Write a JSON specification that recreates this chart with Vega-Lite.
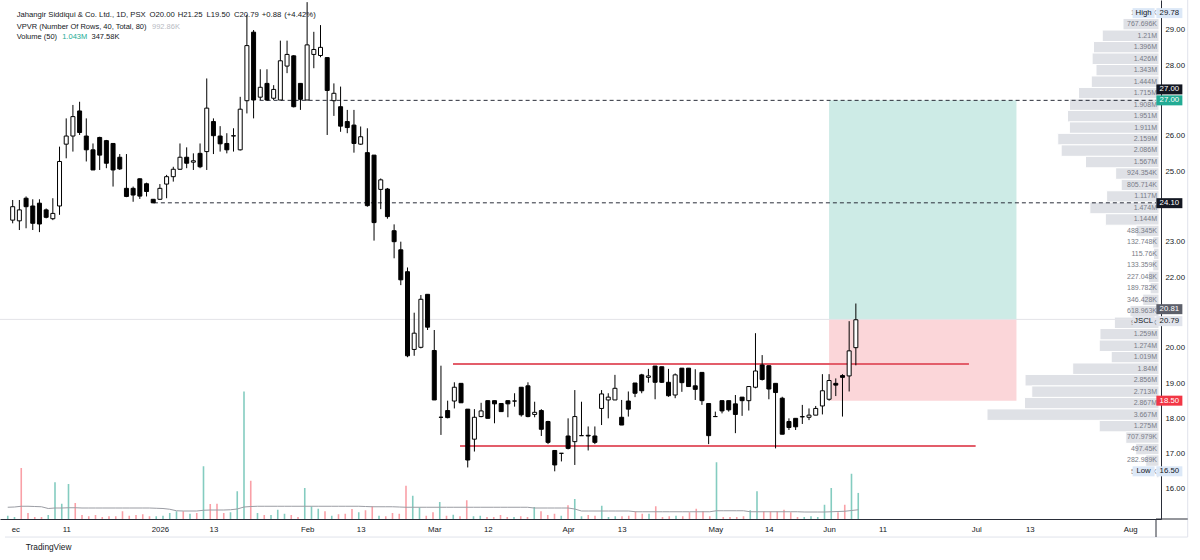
{
"$schema": "https://vega.github.io/schema/vega-lite/v6.json",
"width": 1161, "height": 519,
"autosize": {"type": "none"},
"padding": {"left": 0, "top": 0, "right": 39, "bottom": 41},
"background": "#ffffff",
"config": {"view": {"stroke": null}, "font": "Liberation Sans"},
"datasets": {
"bars": [
{"i":-63,"o":23.61,"h":24.18,"l":23.52,"c":23.99,"v":0.13,"m":0.47},
{"i":-62,"o":23.59,"h":24.18,"l":23.33,"c":23.90,"v":0.08,"m":0.48},
{"i":-61,"o":24.23,"h":24.28,"l":23.38,"c":23.99,"v":2.04,"m":0.51},
{"i":-60,"o":24.01,"h":24.20,"l":23.33,"c":23.52,"v":0.24,"m":0.51},
{"i":-59,"o":24.09,"h":24.20,"l":23.27,"c":23.50,"v":0.08,"m":0.50},
{"i":-58,"o":23.90,"h":23.94,"l":23.66,"c":23.69,"v":0.08,"m":0.49},
{"i":-57,"o":23.65,"h":24.23,"l":23.61,"c":23.80,"v":0.16,"m":0.42},
{"i":-56,"o":24.01,"h":25.69,"l":23.76,"c":25.27,"v":1.47,"m":0.44},
{"i":-55,"o":25.76,"h":26.49,"l":25.36,"c":25.99,"v":0.61,"m":0.44},
{"i":-54,"o":25.99,"h":26.87,"l":25.55,"c":26.54,"v":1.40,"m":0.45},
{"i":-53,"o":26.70,"h":26.96,"l":26.02,"c":26.09,"v":0.64,"m":0.45},
{"i":-52,"o":25.99,"h":26.49,"l":25.27,"c":25.60,"v":0.16,"m":0.44},
{"i":-51,"o":25.60,"h":25.78,"l":25.03,"c":25.03,"v":0.11,"m":0.44},
{"i":-50,"o":25.95,"h":25.97,"l":25.03,"c":25.45,"v":0.16,"m":0.44},
{"i":-49,"o":25.86,"h":25.88,"l":25.08,"c":25.22,"v":0.08,"m":0.44},
{"i":-48,"o":25.78,"h":25.78,"l":24.56,"c":25.03,"v":0.11,"m":0.44},
{"i":-47,"o":25.39,"h":25.48,"l":25.03,"c":25.06,"v":0.11,"m":0.44},
{"i":-46,"o":24.51,"h":25.48,"l":24.26,"c":24.28,"v":0.31,"m":0.44},
{"i":-45,"o":24.51,"h":24.56,"l":24.13,"c":24.32,"v":0.13,"m":0.44},
{"i":-44,"o":24.78,"h":24.79,"l":24.21,"c":24.29,"v":0.16,"m":0.44},
{"i":-43,"o":24.64,"h":24.67,"l":24.28,"c":24.42,"v":0.19,"m":0.44},
{"i":-42,"o":24.20,"h":24.20,"l":24.09,"c":24.10,"v":0.11,"m":0.44},
{"i":-41,"o":24.20,"h":24.63,"l":24.18,"c":24.51,"v":0.11,"m":0.43},
{"i":-40,"o":24.63,"h":24.89,"l":24.23,"c":24.84,"v":0.13,"m":0.42},
{"i":-39,"o":24.84,"h":25.12,"l":24.70,"c":25.05,"v":0.24,"m":0.39},
{"i":-38,"o":25.05,"h":25.78,"l":25.03,"c":25.39,"v":0.31,"m":0.33},
{"i":-37,"o":25.39,"h":25.67,"l":25.08,"c":25.22,"v":0.31,"m":0.32},
{"i":-36,"o":25.25,"h":25.50,"l":25.03,"c":25.29,"v":0.21,"m":0.32},
{"i":-35,"o":25.50,"h":25.78,"l":25.08,"c":25.12,"v":0.24,"m":0.32},
{"i":-34,"o":25.55,"h":27.62,"l":25.03,"c":26.78,"v":2.11,"m":0.35},
{"i":-33,"o":26.40,"h":26.49,"l":25.48,"c":26.00,"v":0.60,"m":0.36},
{"i":-32,"o":25.99,"h":26.27,"l":25.55,"c":25.77,"v":0.61,"m":0.36},
{"i":-31,"o":25.78,"h":26.07,"l":25.50,"c":25.60,"v":0.24,"m":0.36},
{"i":-30,"o":25.99,"h":26.21,"l":25.55,"c":26.00,"v":0.27,"m":0.37},
{"i":-29,"o":25.60,"h":27.10,"l":25.58,"c":26.75,"v":1.11,"m":0.40},
{"i":-28,"o":26.99,"h":29.42,"l":26.63,"c":28.55,"v":5.10,"m":0.48},
{"i":-27,"o":28.93,"h":28.99,"l":26.49,"c":27.01,"v":1.53,"m":0.50},
{"i":-26,"o":27.09,"h":27.88,"l":27.01,"c":27.37,"v":0.24,"m":0.51},
{"i":-25,"o":27.48,"h":27.88,"l":26.99,"c":27.01,"v":0.16,"m":0.51},
{"i":-24,"o":27.06,"h":27.43,"l":27.01,"c":27.31,"v":0.16,"m":0.51},
{"i":-23,"o":27.01,"h":28.69,"l":27.01,"c":28.12,"v":0.37,"m":0.51},
{"i":-22,"o":27.97,"h":28.69,"l":27.77,"c":28.30,"v":0.21,"m":0.51},
{"i":-21,"o":28.26,"h":28.28,"l":26.80,"c":26.82,"v":0.16,"m":0.51},
{"i":-20,"o":27.48,"h":27.48,"l":26.73,"c":27.03,"v":0.08,"m":0.51},
{"i":-19,"o":27.01,"h":29.78,"l":27.01,"c":28.57,"v":1.24,"m":0.51},
{"i":-18,"o":28.30,"h":28.94,"l":27.91,"c":28.44,"v":0.51,"m":0.51},
{"i":-17,"o":28.27,"h":29.13,"l":28.22,"c":28.50,"v":0.41,"m":0.51},
{"i":-16,"o":28.21,"h":28.21,"l":26.02,"c":27.28,"v":0.31,"m":0.51},
{"i":-15,"o":26.99,"h":27.48,"l":26.56,"c":27.20,"v":0.13,"m":0.51},
{"i":-14,"o":26.82,"h":27.39,"l":26.11,"c":26.27,"v":0.19,"m":0.51},
{"i":-13,"o":26.40,"h":26.73,"l":26.07,"c":26.23,"v":0.21,"m":0.51},
{"i":-12,"o":26.30,"h":26.73,"l":25.52,"c":25.78,"v":0.40,"m":0.51},
{"i":-11,"o":25.76,"h":26.26,"l":25.74,"c":25.97,"v":0.27,"m":0.51},
{"i":-10,"o":25.52,"h":26.21,"l":23.99,"c":24.02,"v":0.35,"m":0.50},
{"i":-9,"o":25.45,"h":25.45,"l":23.03,"c":23.54,"v":0.51,"m":0.49},
{"i":-8,"o":24.48,"h":24.79,"l":23.92,"c":24.75,"v":0.13,"m":0.49},
{"i":-7,"o":24.49,"h":24.52,"l":23.65,"c":23.71,"v":0.11,"m":0.49},
{"i":-6,"o":23.31,"h":23.49,"l":22.53,"c":23.00,"v":0.24,"m":0.49},
{"i":-5,"o":22.77,"h":23.00,"l":21.77,"c":21.92,"v":0.21,"m":0.48},
{"i":-4,"o":22.15,"h":22.27,"l":19.73,"c":19.77,"v":1.33,"m":0.47},
{"i":-3,"o":19.95,"h":20.99,"l":19.77,"c":20.41,"v":0.93,"m":0.47},
{"i":-2,"o":20.01,"h":21.49,"l":19.98,"c":21.37,"v":0.47,"m":0.47},
{"i":-1,"o":21.51,"h":21.51,"l":20.50,"c":20.58,"v":0.13,"m":0.47},
{"i":0,"o":19.92,"h":20.50,"l":18.52,"c":18.52,"v":0.27,"m":0.47},
{"i":1,"o":18.03,"h":19.49,"l":17.53,"c":18.03,"v":0.68,"m":0.47},
{"i":2,"o":18.22,"h":18.50,"l":18.00,"c":18.02,"v":0.13,"m":0.47},
{"i":3,"o":18.49,"h":19.02,"l":18.28,"c":18.88,"v":0.17,"m":0.47},
{"i":4,"o":18.99,"h":19.00,"l":18.44,"c":18.44,"v":0.11,"m":0.47},
{"i":5,"o":18.26,"h":18.26,"l":16.61,"c":16.82,"v":0.75,"m":0.47},
{"i":6,"o":17.41,"h":18.26,"l":17.06,"c":18.03,"v":0.11,"m":0.47},
{"i":7,"o":18.05,"h":18.44,"l":18.03,"c":18.21,"v":0.13,"m":0.47},
{"i":8,"o":18.50,"h":18.50,"l":18.00,"c":18.00,"v":0.08,"m":0.47},
{"i":9,"o":18.50,"h":18.50,"l":17.86,"c":18.41,"v":0.08,"m":0.47},
{"i":10,"o":18.42,"h":18.42,"l":18.19,"c":18.19,"v":0.16,"m":0.47},
{"i":11,"o":18.50,"h":18.50,"l":18.03,"c":18.41,"v":0.08,"m":0.47},
{"i":12,"o":18.49,"h":18.71,"l":18.33,"c":18.49,"v":0.08,"m":0.47},
{"i":13,"o":18.88,"h":18.88,"l":18.05,"c":18.10,"v":0.11,"m":0.47},
{"i":14,"o":18.92,"h":19.02,"l":18.03,"c":18.05,"v":0.08,"m":0.47},
{"i":15,"o":18.11,"h":18.47,"l":18.03,"c":18.17,"v":0.48,"m":0.44},
{"i":16,"o":18.22,"h":18.26,"l":17.50,"c":17.69,"v":0.31,"m":0.44},
{"i":17,"o":17.91,"h":17.93,"l":17.27,"c":17.32,"v":0.16,"m":0.44},
{"i":18,"o":17.09,"h":17.09,"l":16.50,"c":16.68,"v":0.21,"m":0.44},
{"i":19,"o":17.01,"h":17.01,"l":16.78,"c":17.01,"v":0.13,"m":0.44},
{"i":20,"o":17.50,"h":18.00,"l":17.12,"c":17.15,"v":0.55,"m":0.44},
{"i":21,"o":17.34,"h":18.80,"l":16.68,"c":18.05,"v":0.80,"m":0.40},
{"i":22,"o":17.51,"h":18.47,"l":17.51,"c":17.51,"v":0.11,"m":0.32},
{"i":23,"o":17.52,"h":17.77,"l":17.09,"c":17.50,"v":0.16,"m":0.32},
{"i":24,"o":17.50,"h":17.77,"l":17.27,"c":17.32,"v":0.13,"m":0.32},
{"i":25,"o":18.28,"h":18.80,"l":17.81,"c":18.69,"v":0.53,"m":0.32},
{"i":26,"o":18.52,"h":18.71,"l":18.00,"c":18.60,"v":0.08,"m":0.32},
{"i":27,"o":18.52,"h":19.23,"l":18.52,"c":18.85,"v":0.11,"m":0.32},
{"i":28,"o":18.03,"h":18.52,"l":17.81,"c":17.81,"v":0.11,"m":0.32},
{"i":29,"o":18.49,"h":18.76,"l":18.05,"c":18.26,"v":0.13,"m":0.32},
{"i":30,"o":19.00,"h":19.00,"l":18.60,"c":18.71,"v":0.31,"m":0.29},
{"i":31,"o":19.23,"h":19.26,"l":18.71,"c":18.78,"v":0.21,"m":0.29},
{"i":32,"o":19.16,"h":19.40,"l":19.01,"c":19.20,"v":0.21,"m":0.29},
{"i":33,"o":19.48,"h":19.48,"l":18.54,"c":19.02,"v":0.51,"m":0.29},
{"i":34,"o":19.46,"h":19.46,"l":19.00,"c":19.02,"v":0.08,"m":0.29},
{"i":35,"o":19.02,"h":19.40,"l":18.61,"c":18.64,"v":0.11,"m":0.29},
{"i":36,"o":18.66,"h":19.27,"l":18.57,"c":19.23,"v":0.13,"m":0.29},
{"i":37,"o":19.42,"h":19.42,"l":18.75,"c":19.01,"v":0.11,"m":0.29},
{"i":38,"o":19.42,"h":19.42,"l":18.90,"c":18.90,"v":0.27,"m":0.29},
{"i":39,"o":18.92,"h":19.39,"l":18.52,"c":18.82,"v":0.41,"m":0.29},
{"i":40,"o":19.30,"h":19.30,"l":18.38,"c":18.50,"v":0.31,"m":0.29},
{"i":41,"o":18.42,"h":18.42,"l":17.27,"c":17.51,"v":0.11,"m":0.29},
{"i":42,"o":18.05,"h":18.19,"l":18.05,"c":18.05,"v":2.27,"m":0.33},
{"i":43,"o":18.50,"h":18.50,"l":18.14,"c":18.21,"v":0.08,"m":0.33},
{"i":44,"o":18.50,"h":18.50,"l":18.19,"c":18.24,"v":0.08,"m":0.33},
{"i":45,"o":18.41,"h":18.66,"l":17.58,"c":18.11,"v":0.08,"m":0.33},
{"i":46,"o":18.60,"h":18.60,"l":18.07,"c":18.50,"v":0.11,"m":0.33},
{"i":47,"o":18.50,"h":18.90,"l":18.22,"c":18.90,"v":0.35,"m":0.29},
{"i":48,"o":18.88,"h":20.41,"l":18.85,"c":19.34,"v":1.11,"m":0.29},
{"i":49,"o":19.51,"h":19.79,"l":19.07,"c":19.10,"v":0.31,"m":0.29},
{"i":50,"o":19.49,"h":19.49,"l":18.54,"c":18.83,"v":0.31,"m":0.29},
{"i":51,"o":18.99,"h":18.99,"l":17.15,"c":18.73,"v":0.31,"m":0.29},
{"i":52,"o":18.57,"h":18.61,"l":17.55,"c":17.55,"v":0.37,"m":0.29},
{"i":53,"o":17.91,"h":18.00,"l":17.67,"c":17.74,"v":0.27,"m":0.29},
{"i":54,"o":18.00,"h":18.00,"l":17.67,"c":17.76,"v":0.08,"m":0.29},
{"i":55,"o":18.04,"h":18.38,"l":17.84,"c":18.05,"v":0.08,"m":0.28},
{"i":56,"o":18.03,"h":18.28,"l":17.95,"c":18.09,"v":0.11,"m":0.28},
{"i":57,"o":18.09,"h":18.35,"l":18.09,"c":18.28,"v":0.08,"m":0.28},
{"i":58,"o":18.35,"h":19.25,"l":18.11,"c":18.78,"v":0.57,"m":0.28},
{"i":59,"o":18.54,"h":19.25,"l":18.50,"c":19.07,"v":1.24,"m":0.29},
{"i":60,"o":18.99,"h":19.13,"l":18.63,"c":18.94,"v":0.27,"m":0.30},
{"i":61,"o":19.21,"h":19.25,"l":18.05,"c":19.16,"v":0.57,"m":0.31},
{"i":62,"o":19.20,"h":20.75,"l":18.76,"c":19.91,"v":1.81,"m":0.34},
{"i":63,"o":20.00,"h":21.25,"l":19.50,"c":20.79,"v":1.043,"m":0.37}
],
"vp": [
{"lo":29.449,"hi":29.78,"v":0.01536,"t":"15.357K"},
{"lo":29.118,"hi":29.449,"v":0.7677,"t":"767.696K"},
{"lo":28.786,"hi":29.118,"v":1.21,"t":"1.21M"},
{"lo":28.455,"hi":28.786,"v":1.396,"t":"1.396M"},
{"lo":28.124,"hi":28.455,"v":1.426,"t":"1.426M"},
{"lo":27.792,"hi":28.124,"v":1.343,"t":"1.343M"},
{"lo":27.461,"hi":27.792,"v":1.444,"t":"1.444M"},
{"lo":27.13,"hi":27.461,"v":1.715,"t":"1.715M"},
{"lo":26.798,"hi":27.13,"v":1.908,"t":"1.908M"},
{"lo":26.467,"hi":26.798,"v":1.951,"t":"1.951M"},
{"lo":26.136,"hi":26.467,"v":1.911,"t":"1.911M"},
{"lo":25.804,"hi":26.136,"v":2.159,"t":"2.159M"},
{"lo":25.473,"hi":25.804,"v":2.086,"t":"2.086M"},
{"lo":25.142,"hi":25.473,"v":1.567,"t":"1.567M"},
{"lo":24.81,"hi":25.142,"v":0.9244,"t":"924.354K"},
{"lo":24.479,"hi":24.81,"v":0.8057,"t":"805.714K"},
{"lo":24.148,"hi":24.479,"v":1.117,"t":"1.117M"},
{"lo":23.816,"hi":24.148,"v":1.474,"t":"1.474M"},
{"lo":23.485,"hi":23.816,"v":1.144,"t":"1.144M"},
{"lo":23.154,"hi":23.485,"v":0.4883,"t":"488.345K"},
{"lo":22.822,"hi":23.154,"v":0.1327,"t":"132.748K"},
{"lo":22.491,"hi":22.822,"v":0.1158,"t":"115.76K"},
{"lo":22.16,"hi":22.491,"v":0.1334,"t":"133.359K"},
{"lo":21.828,"hi":22.16,"v":0.227,"t":"227.048K"},
{"lo":21.497,"hi":21.828,"v":0.1898,"t":"189.782K"},
{"lo":21.166,"hi":21.497,"v":0.3464,"t":"346.428K"},
{"lo":20.834,"hi":21.166,"v":0.619,"t":"618.963K"},
{"lo":20.503,"hi":20.834,"v":0.952,"t":"952.16K"},
{"lo":20.172,"hi":20.503,"v":1.259,"t":"1.259M"},
{"lo":19.84,"hi":20.172,"v":1.274,"t":"1.274M"},
{"lo":19.509,"hi":19.84,"v":1.019,"t":"1.019M"},
{"lo":19.178,"hi":19.509,"v":1.84,"t":"1.84M"},
{"lo":18.846,"hi":19.178,"v":2.856,"t":"2.856M"},
{"lo":18.515,"hi":18.846,"v":2.713,"t":"2.713M"},
{"lo":18.184,"hi":18.515,"v":2.867,"t":"2.867M"},
{"lo":17.852,"hi":18.184,"v":3.667,"t":"3.667M"},
{"lo":17.521,"hi":17.852,"v":1.275,"t":"1.275M"},
{"lo":17.19,"hi":17.521,"v":0.708,"t":"707.979K"},
{"lo":16.858,"hi":17.19,"v":0.4975,"t":"497.45K"},
{"lo":16.527,"hi":16.858,"v":0.283,"t":"282.989K"},
{"lo":16.196,"hi":16.527,"v":0.0506,"t":"50.603K"}
],
"zones": [{"k":"tp","x1":59,"x2":87,"y1":20.81,"y2":27.0},{"k":"sl","x1":59,"x2":87,"y1":18.5,"y2":20.81}],
"sr": [{"x1":2.8,"x2":79.9,"y":19.54},{"x1":3.85,"x2":80.9,"y":17.22}],
"lvl": [{"x1":-26.1,"y":27.0},{"x1":-41.9,"y":24.1}],
"tags": [
{"p":29.47,"t":"29.78","k":"hl"},
{"p":27.31,"t":"27.00","k":"black"},
{"p":27.0,"t":"27.00","k":"green"},
{"p":24.09,"t":"24.10","k":"black"},
{"p":21.09,"t":"20.81","k":"gray"},
{"p":20.75,"t":"20.79","k":"light"},
{"p":18.5,"t":"18.50","k":"red"},
{"p":16.5,"t":"16.50","k":"hl"}
],
"side": [{"p":29.47,"t":"High","k":"hl"},{"p":20.75,"t":"JSCL","k":"light"},{"p":16.5,"t":"Low","k":"hl"}]
},
"resolve": {"scale": {"x": "independent", "y": "independent"}},
"layer": [
{"data": {"name": "bars"},
 "layer": [
  {"mark": {"type": "rule", "strokeWidth": 1.6},
   "encoding": {
    "x": {"field": "i", "type": "quantitative", "scale": {"domain": [-64.148, 107.852], "nice": false, "zero": false}, "axis": null},
    "y": {"field": "v", "type": "quantitative", "scale": {"domain": [0, 20.76], "nice": false, "zero": false}, "axis": null},
    "y2": {"datum": 0},
    "color": {"condition": {"test": "datum.c >= datum.o", "value": "#84ccc0"}, "value": "#f9a0a7"}
   }},
  {"mark": {"type": "line", "color": "#9a9ca3", "strokeWidth": 1},
   "encoding": {
    "x": {"field": "i", "type": "quantitative", "scale": {"domain": [-64.148, 107.852], "nice": false, "zero": false}, "axis": null},
    "y": {"field": "m", "type": "quantitative", "scale": {"domain": [0, 20.76], "nice": false, "zero": false}, "axis": null}
   }}
 ]},
{"data": {"name": "vp"},
 "layer": [
  {"mark": {"type": "bar", "orient": "horizontal", "color": "#dfe1e6", "stroke": "#ffffff", "strokeWidth": 1},
   "encoding": {
    "x": {"field": "v", "type": "quantitative", "scale": {"domain": [-0.0426, 24.71], "reverse": true, "nice": false, "zero": false}, "axis": null},
    "x2": {"datum": 0},
    "y": {"field": "lo", "type": "quantitative", "scale": {"domain": [15.1506, 29.8406], "nice": false, "zero": false}, "axis": null},
    "y2": {"field": "hi"}
   }},
  {"mark": {"type": "text", "align": "right", "baseline": "middle", "dx": -2, "dy": -5.85, "fontSize": 7, "color": "#787b86"},
   "encoding": {
    "x": {"datum": 0, "type": "quantitative", "scale": {"domain": [-0.0426, 24.71], "reverse": true, "nice": false, "zero": false}, "axis": null},
    "y": {"field": "lo", "type": "quantitative", "scale": {"domain": [15.1506, 29.8406], "nice": false, "zero": false}, "axis": null},
    "text": {"field": "t"}
   }}
 ]},
{"layer": [
  {"data": {"name": "zones"},
   "mark": {"type": "rect"},
   "encoding": {
    "x": {"field": "x1", "type": "quantitative", "title": null,
          "scale": {"domain": [-64.148, 107.852], "nice": false, "zero": false},
          "axis": {"orient": "bottom", "values": [-62.6,-55,-41,-33,-19,-11,0,8,20,28,42,50,59,67,81,89,104],
                   "labelExpr": "datum.value < -60 ? 'ec' : datum.value == -55 ? '11' : datum.value == -41 ? '2026' : datum.value == -33 ? '13' : datum.value == -19 ? 'Feb' : datum.value == -11 ? '13' : datum.value == 0 ? 'Mar' : datum.value == 8 ? '12' : datum.value == 20 ? 'Apr' : datum.value == 28 ? '13' : datum.value == 42 ? 'May' : datum.value == 50 ? '14' : datum.value == 59 ? 'Jun' : datum.value == 67 ? '11' : datum.value == 81 ? 'Jul' : datum.value == 89 ? '13' : 'Aug'",
                   "ticks": false, "grid": false, "domainColor": "#2a2e39", "domainWidth": 1,
                   "labelFontSize": 7.8, "labelColor": "#131722", "labelPadding": 6,
                   "labelFlush": false, "labelOverlap": false, "labelBound": false, "title": null}},
    "x2": {"field": "x2"},
    "y": {"field": "y1", "type": "quantitative", "title": null,
          "scale": {"domain": [15.1506, 29.8406], "nice": false, "zero": false},
          "axis": {"orient": "right", "values": [16,17,18,19,20,22,23,25,26,28,29], "format": ".2f",
                   "ticks": false, "grid": false, "domainColor": "#2a2e39", "domainWidth": 1,
                   "labelFontSize": 7.8, "labelColor": "#131722", "labelPadding": 4,
                   "labelFlush": false, "labelOverlap": false, "labelBound": false, "title": null}},
    "y2": {"field": "y2"},
    "color": {"condition": {"test": "datum.k == 'tp'", "value": "#cdebe6"}, "value": "#fbd6d9"}
   }},
  {"data": {"values": [{}]},
   "mark": {"type": "rule", "color": "#e0e3eb", "strokeWidth": 1},
   "encoding": {"x": {"datum": -64.148, "type": "quantitative"}, "x2": {"datum": 112.59}, "y": {"datum": 14.64, "type": "quantitative"}}},
  {"data": {"values": [{}]},
   "mark": {"type": "rule", "color": "#e0e3eb", "strokeWidth": 1},
   "encoding": {"x": {"datum": 112.59, "type": "quantitative"}, "y": {"datum": 14.64, "type": "quantitative"}, "y2": {"datum": 29.8406}}},
  {"data": {"values": [{}]},
   "mark": {"type": "rule", "color": "#2a2e39", "strokeWidth": 1},
   "encoding": {"x": {"datum": 107.852, "type": "quantitative"}, "x2": {"datum": 112.59}, "y": {"datum": 15.1506, "type": "quantitative"}}},
  {"data": {"values": [{}]},
   "mark": {"type": "rule", "color": "#2a2e39", "strokeWidth": 1},
   "encoding": {"x": {"datum": 107.852, "type": "quantitative"}, "y": {"datum": 14.64, "type": "quantitative"}, "y2": {"datum": 15.1506}}},
  {"data": {"values": [{"p": 20.8}]},
   "mark": {"type": "rule", "color": "#e3e4e8", "strokeWidth": 1},
   "encoding": {"y": {"field": "p", "type": "quantitative", "title": null}}},
  {"data": {"name": "sr"},
   "mark": {"type": "rule", "color": "#e35d6a", "strokeWidth": 2},
   "encoding": {
    "x": {"field": "x1", "type": "quantitative", "title": null},
    "x2": {"field": "x2"},
    "y": {"field": "y", "type": "quantitative", "title": null}
   }},
  {"data": {"name": "lvl"},
   "mark": {"type": "rule", "color": "#2a2e39", "strokeWidth": 1, "strokeDash": [4, 3]},
   "encoding": {
    "x": {"field": "x1", "type": "quantitative", "title": null},
    "x2": {"datum": 107.852},
    "y": {"field": "y", "type": "quantitative", "title": null}
   }},
  {"data": {"name": "bars"},
   "mark": {"type": "rule", "color": "#000000", "strokeWidth": 1},
   "encoding": {
    "x": {"field": "i", "type": "quantitative", "title": null},
    "y": {"field": "l", "type": "quantitative", "title": null},
    "y2": {"field": "h"}
   }},
  {"data": {"name": "bars"},
   "mark": {"type": "bar", "orient": "vertical", "width": 4, "stroke": "#000000", "strokeWidth": 1},
   "encoding": {
    "x": {"field": "i", "type": "quantitative", "title": null},
    "y": {"field": "o", "type": "quantitative", "title": null},
    "y2": {"field": "c"},
    "fill": {"condition": {"test": "datum.c >= datum.o", "value": "#ffffff"}, "value": "#000000"}
   }},
  {"data": {"name": "tags"},
   "mark": {"type": "tick", "orient": "horizontal", "size": 26, "thickness": 10, "opacity": 1},
   "encoding": {
    "x": {"datum": 109.85, "type": "quantitative"},
    "y": {"field": "p", "type": "quantitative", "title": null},
    "color": {"field": "k", "type": "nominal", "legend": null,
              "scale": {"domain": ["hl","black","green","gray","light","red"], "range": ["#dce8f7","#131722","#22ab94","#5d606b","#e0e3eb","#f23645"]}}
   }},
  {"data": {"name": "tags"},
   "mark": {"type": "text", "fontSize": 7.8, "align": "center", "baseline": "middle"},
   "encoding": {
    "x": {"datum": 109.85, "type": "quantitative"},
    "y": {"field": "p", "type": "quantitative", "title": null},
    "text": {"field": "t"},
    "color": {"condition": {"test": "datum.k == 'hl' || datum.k == 'light'", "value": "#131722"}, "value": "#ffffff"}
   }},
  {"data": {"name": "side"},
   "mark": {"type": "tick", "orient": "horizontal", "size": 22, "thickness": 10, "opacity": 1},
   "encoding": {
    "x": {"datum": 106.0, "type": "quantitative"},
    "y": {"field": "p", "type": "quantitative", "title": null},
    "color": {"field": "k", "type": "nominal", "legend": null,
              "scale": {"domain": ["hl","black","green","gray","light","red"], "range": ["#dce8f7","#131722","#22ab94","#5d606b","#e0e3eb","#f23645"]}}
   }},
  {"data": {"name": "side"},
   "mark": {"type": "text", "fontSize": 7.8, "align": "center", "baseline": "middle", "color": "#131722"},
   "encoding": {
    "x": {"datum": 106.0, "type": "quantitative"},
    "y": {"field": "p", "type": "quantitative", "title": null},
    "text": {"field": "t"}
   }},
  {"data": {"values": [{"t": "TradingView"}]},
   "mark": {"type": "text", "fontSize": 8.3, "align": "left", "baseline": "middle", "color": "#131722"},
   "encoding": {"x": {"datum": -61.04, "type": "quantitative"}, "y": {"datum": 14.33, "type": "quantitative"}, "text": {"field": "t"}}},
  {"data": {"values": [{"t": "Jahangir Siddiqui & Co. Ltd., 1D, PSX"}]},
   "mark": {"type": "text", "fontSize": 7.7, "align": "left", "baseline": "middle", "color": "#131722"},
   "encoding": {"x": {"datum": -62.41, "type": "quantitative"}, "y": {"datum": 29.41, "type": "quantitative"}, "text": {"field": "t"}}},
  {"data": {"values": [{"t": "O20.00"}]},
   "mark": {"type": "text", "fontSize": 7.7, "align": "left", "baseline": "middle", "color": "#131722"},
   "encoding": {"x": {"datum": -42.56, "type": "quantitative"}, "y": {"datum": 29.41, "type": "quantitative"}, "text": {"field": "t"}}},
  {"data": {"values": [{"t": "H21.25"}]},
   "mark": {"type": "text", "fontSize": 7.7, "align": "left", "baseline": "middle", "color": "#131722"},
   "encoding": {"x": {"datum": -38.33, "type": "quantitative"}, "y": {"datum": 29.41, "type": "quantitative"}, "text": {"field": "t"}}},
  {"data": {"values": [{"t": "L19.50"}]},
   "mark": {"type": "text", "fontSize": 7.7, "align": "left", "baseline": "middle", "color": "#131722"},
   "encoding": {"x": {"datum": -34.03, "type": "quantitative"}, "y": {"datum": 29.41, "type": "quantitative"}, "text": {"field": "t"}}},
  {"data": {"values": [{"t": "C20.79"}]},
   "mark": {"type": "text", "fontSize": 7.7, "align": "left", "baseline": "middle", "color": "#131722"},
   "encoding": {"x": {"datum": -29.93, "type": "quantitative"}, "y": {"datum": 29.41, "type": "quantitative"}, "text": {"field": "t"}}},
  {"data": {"values": [{"t": "+0.88"}]},
   "mark": {"type": "text", "fontSize": 7.7, "align": "left", "baseline": "middle", "color": "#131722"},
   "encoding": {"x": {"datum": -25.78, "type": "quantitative"}, "y": {"datum": 29.41, "type": "quantitative"}, "text": {"field": "t"}}},
  {"data": {"values": [{"t": "(+4.42%)"}]},
   "mark": {"type": "text", "fontSize": 7.7, "align": "left", "baseline": "middle", "color": "#131722"},
   "encoding": {"x": {"datum": -22.41, "type": "quantitative"}, "y": {"datum": 29.41, "type": "quantitative"}, "text": {"field": "t"}}},
  {"data": {"values": [{"t": "VPVR (Number Of Rows, 40, Total, 80)"}]},
   "mark": {"type": "text", "fontSize": 7.5, "align": "left", "baseline": "middle", "color": "#131722"},
   "encoding": {"x": {"datum": -62.41, "type": "quantitative"}, "y": {"datum": 29.085, "type": "quantitative"}, "text": {"field": "t"}}},
  {"data": {"values": [{"t": "992.86K"}]},
   "mark": {"type": "text", "fontSize": 7.5, "align": "left", "baseline": "middle", "color": "#b8bbc3"},
   "encoding": {"x": {"datum": -42.18, "type": "quantitative"}, "y": {"datum": 29.085, "type": "quantitative"}, "text": {"field": "t"}}},
  {"data": {"values": [{"t": "Volume (50)"}]},
   "mark": {"type": "text", "fontSize": 7.5, "align": "left", "baseline": "middle", "color": "#131722"},
   "encoding": {"x": {"datum": -62.41, "type": "quantitative"}, "y": {"datum": 28.785, "type": "quantitative"}, "text": {"field": "t"}}},
  {"data": {"values": [{"t": "1.043M"}]},
   "mark": {"type": "text", "fontSize": 7.5, "align": "left", "baseline": "middle", "color": "#22ab94"},
   "encoding": {"x": {"datum": -55.6, "type": "quantitative"}, "y": {"datum": 28.785, "type": "quantitative"}, "text": {"field": "t"}}},
  {"data": {"values": [{"t": "347.58K"}]},
   "mark": {"type": "text", "fontSize": 7.5, "align": "left", "baseline": "middle", "color": "#131722"},
   "encoding": {"x": {"datum": -51.22, "type": "quantitative"}, "y": {"datum": 28.785, "type": "quantitative"}, "text": {"field": "t"}}}
 ]}
]
}
